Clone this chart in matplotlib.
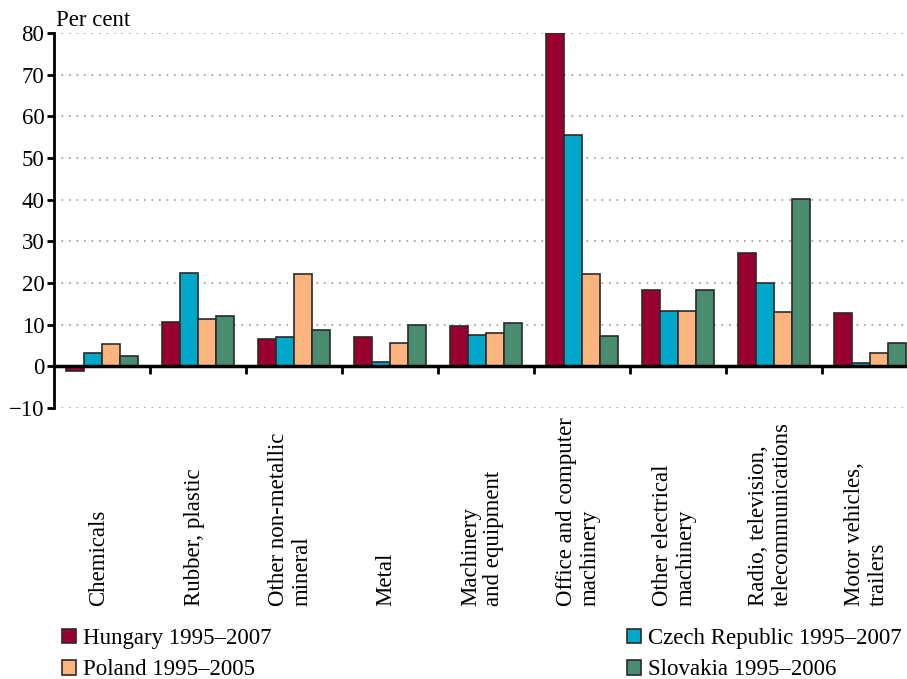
import matplotlib
matplotlib.use("Agg")
import matplotlib.pyplot as plt
import matplotlib.transforms as mtransforms
import numpy as np

categories = ["Chemicals", "Rubber, plastic", "Other non-metallic\nmineral", "Metal",
              "Machinery\nand equipment", "Office and computer\nmachinery",
              "Other electrical\nmachinery", "Radio, television,\ntelecommunications",
              "Motor vehicles,\ntrailers"]
series_names = ["Hungary 1995\u20132007", "Czech Republic 1995\u20132007",
                "Poland 1995\u20132005", "Slovakia 1995\u20132006"]
hungary = [-1.2, 10.6, 6.6, 7.0, 9.7, 80.0, 18.3, 27.2, 12.7]
czech = [3.2, 22.3, 7.0, 1.0, 7.6, 55.4, 13.3, 20.0, 0.7]
poland = [5.4, 11.3, 22.2, 5.7, 7.9, 22.2, 13.3, 13.1, 3.3]
slovakia = [2.6, 12.0, 8.8, 10.0, 10.4, 7.2, 18.3, 40.1, 5.5]
colors = ["#990030", "#00A8C9", "#FCB47F", "#4A8C6F"]
yticks = [-10, 0, 10, 20, 30, 40, 50, 60, 70, 80]

plt.rcParams['font.family'] = ['Liberation Serif', 'DejaVu Serif']
FS = 16.5

fig = plt.figure(figsize=(9.07, 6.79), dpi=100)
ax = fig.add_axes([54/907, (679-408)/679, 864/907, (408-33)/679])

data = [hungary, czech, poland, slovakia]
x = np.arange(len(categories)) + 0.5
w = 0.185
bars = []
for i, (vals, c) in enumerate(zip(data, colors)):
    b = ax.bar(x + (i - 1.5) * w, vals, width=w, color=c, edgecolor="#2a2a2a",
               linewidth=1.2, zorder=3)
    bars.append(b)

ax.set_xlim(0, len(categories))
ax.set_ylim(-10, 80)
ax.set_yticks(yticks)
ax.set_yticklabels([("\u2212%d" % -v) if v < 0 else str(v) for v in yticks], fontsize=FS)
ax.set_xticks(np.arange(1, len(categories)))
ax.set_xticklabels([])
ax.tick_params(axis='x', direction='out', length=6, width=2, color='black')
ax.tick_params(axis='y', direction='out', length=5, width=2, color='black', pad=2)
for s in ['top', 'right']:
    ax.spines[s].set_visible(False)
ax.spines['bottom'].set_position(('data', 0))
ax.spines['bottom'].set_linewidth(2.5)
ax.spines['bottom'].set_zorder(4)
ax.spines['left'].set_linewidth(2)
for v in yticks:
    if v != 0:
        ax.axhline(v, color="#999999", linestyle=(0, (1, 3.5)), linewidth=1.2, zorder=1)

ax.text(0.02, 80.5, "Per cent", fontsize=FS, ha='left', va='bottom')

trans = mtransforms.blended_transform_factory(ax.transData, fig.transFigure)
for xi, lab in zip(x, categories):
    ax.text(xi - 0.04, (679-606)/679, lab, rotation=90, ha='center', va='bottom',
            multialignment='left', fontsize=FS, transform=trans, linespacing=1.15)

order = [(0, 65/907), (1, 630/907)]
rows = [[bars[0], bars[2]], [bars[1], bars[3]]]
names = [[series_names[0], series_names[2]], [series_names[1], series_names[3]]]
for (k, xpos) in order:
    fig.legend(rows[k], names[k], loc='upper left', bbox_to_anchor=(xpos - 0.003, 1 - 628/679),
               frameon=False, fontsize=FS, handlelength=0.6, handleheight=0.6,
               handletextpad=0.3, labelspacing=0.45, borderaxespad=0, borderpad=0)

fig.savefig("out.png", dpi=100)
